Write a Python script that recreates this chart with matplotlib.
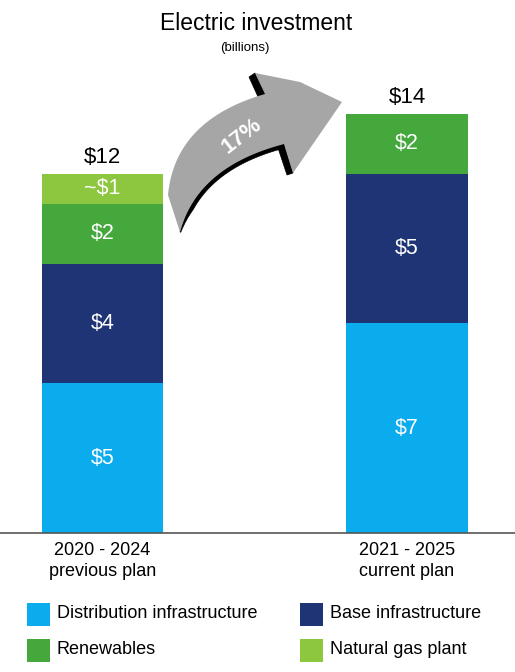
import matplotlib
matplotlib.use("Agg")
import matplotlib.pyplot as plt
from matplotlib.patches import Polygon, Rectangle
import numpy as np

plt.rcParams['font.family'] = ['Liberation Sans', 'DejaVu Sans']

# ---- data ----
categories = ["2020 - 2024\nprevious plan", "2021 - 2025\ncurrent plan"]
series_names = ["Distribution infrastructure", "Base infrastructure", "Renewables", "Natural gas plant"]
distribution = [5, 7]
base = [4, 5]
renewables = [2, 2]
natural_gas = [1, 0]
segment_labels = [["$5", "$4", "$2", "~$1"], ["$7", "$5", "$2", ""]]
totals = ["$12", "$14"]
growth_label = "17%"

colors = ["#0AACEE", "#1E3475", "#45A83D", "#8DC63F"]

W, H = 515, 672
fig = plt.figure(figsize=(W / 100, H / 100), dpi=100)

base_px = 533
unit_px = 29.93
ax = fig.add_axes([0, (H - base_px) / H, 1, base_px / H])
x = np.arange(len(categories))
spacing = 304.5
ax.set_xlim(-102.5 / spacing, (W - 102.5) / spacing)
ax.set_ylim(0, base_px / unit_px)
bw = 121.5 / spacing

series = [distribution, base, renewables, natural_gas]
bottom = np.zeros(len(categories))
for i, vals in enumerate(series):
    vals = np.array(vals, dtype=float)
    ax.bar(x, vals, bw, bottom=bottom, color=colors[i], linewidth=0)
    for j in range(len(categories)):
        if vals[j] > 0 and segment_labels[j][i]:
            ax.text(x[j], bottom[j] + vals[j] / 2, segment_labels[j][i], ha='center', va='center',
                    color='white', fontsize=15.5)
    bottom += vals
for j in range(len(categories)):
    ax.text(x[j], bottom[j] + 0.37, totals[j], ha='center', va='baseline', color='black', fontsize=16)

ax.axis('off')

# baseline
fig.add_artist(plt.Line2D([0, 1], [(H - base_px) / H] * 2, transform=fig.transFigure,
                          color='#555555', lw=1.2))

# category labels
for j, c in enumerate(categories):
    xf = (102.5 + spacing * j) / W
    fig.text(xf, 1 - 561 / H, c, ha='center', va='center', fontsize=13, linespacing=1.25)

# title
fig.text(256 / W, 1 - 24 / H, "Electric investment", ha='center', va='center', fontsize=16.5)
fig.text(245 / W, 1 - 48 / H, "(billions)", ha='center', va='center', fontsize=9.5)

# ---- curved arrow (image pixel coords, y down) ----
def bez(p0, c, p2, n=60):
    t = np.linspace(0, 1, n)[:, None]
    p0, c, p2 = map(np.array, (p0, c, p2))
    return (1 - t) ** 2 * p0 + 2 * (1 - t) * t * c + t ** 2 * p2

def to_fig(pts):
    pts = np.asarray(pts, dtype=float)
    return np.column_stack([pts[:, 0] / W, 1 - pts[:, 1] / H])

outer = bez((168, 195), (175, 120), (265, 94))
inner = bez((180, 232), (197.5, 166.5), (284, 144))
head = np.array([(255, 73), (300, 82), (342, 102), (293, 173)])
poly = np.vstack([outer, head, inner[::-1]])

# shadow strips
d = np.gradient(inner, axis=0)
d /= np.linalg.norm(d, axis=1)[:, None]
nrm = np.column_stack([-d[:, 1], d[:, 0]])
if nrm[len(nrm) // 2, 1] < 0:
    nrm = -nrm  # point below-right (away from arrow body)
tt = np.linspace(0, 1, len(inner))
thick = (0.8 + 3.2 * np.clip(tt / 0.2, 0, 1))[:, None]
strip = np.vstack([inner, (inner + nrm * thick)[::-1]])
shadow_polys = [
    strip,
    np.array([(284, 144), (293, 173), (287, 175), (278, 148)]),
    np.array([(255, 73), (266, 95), (259, 99), (249, 77)]),
]
for sp in shadow_polys:
    fig.add_artist(Polygon(to_fig(sp), closed=True, transform=fig.transFigure,
                           facecolor='black', edgecolor='black', lw=0.5))
fig.add_artist(Polygon(to_fig(poly), closed=True, transform=fig.transFigure,
                       facecolor='#A6A6A6', edgecolor='none'))
fig.text(242 / W, 1 - 136 / H, growth_label, ha='center', va='center', rotation=38,
         color='white', fontsize=16, fontweight='bold')

# ---- legend ----
leg_pos = [(27, 614), (27, 650), (300, 614), (300, 650)]
leg_order = [0, 2, 1, 3]
for (lx, ly), k in zip(leg_pos, leg_order):
    s = 23
    fig.add_artist(Rectangle((lx / W, 1 - (ly + s / 2) / H), s / W, s / H,
                             transform=fig.transFigure, facecolor=colors[k], edgecolor='none'))
    fig.text((lx + s + 7) / W, 1 - ly / H, series_names[k], ha='left', va='center', fontsize=13)

fig.savefig("out.png", dpi=100)
